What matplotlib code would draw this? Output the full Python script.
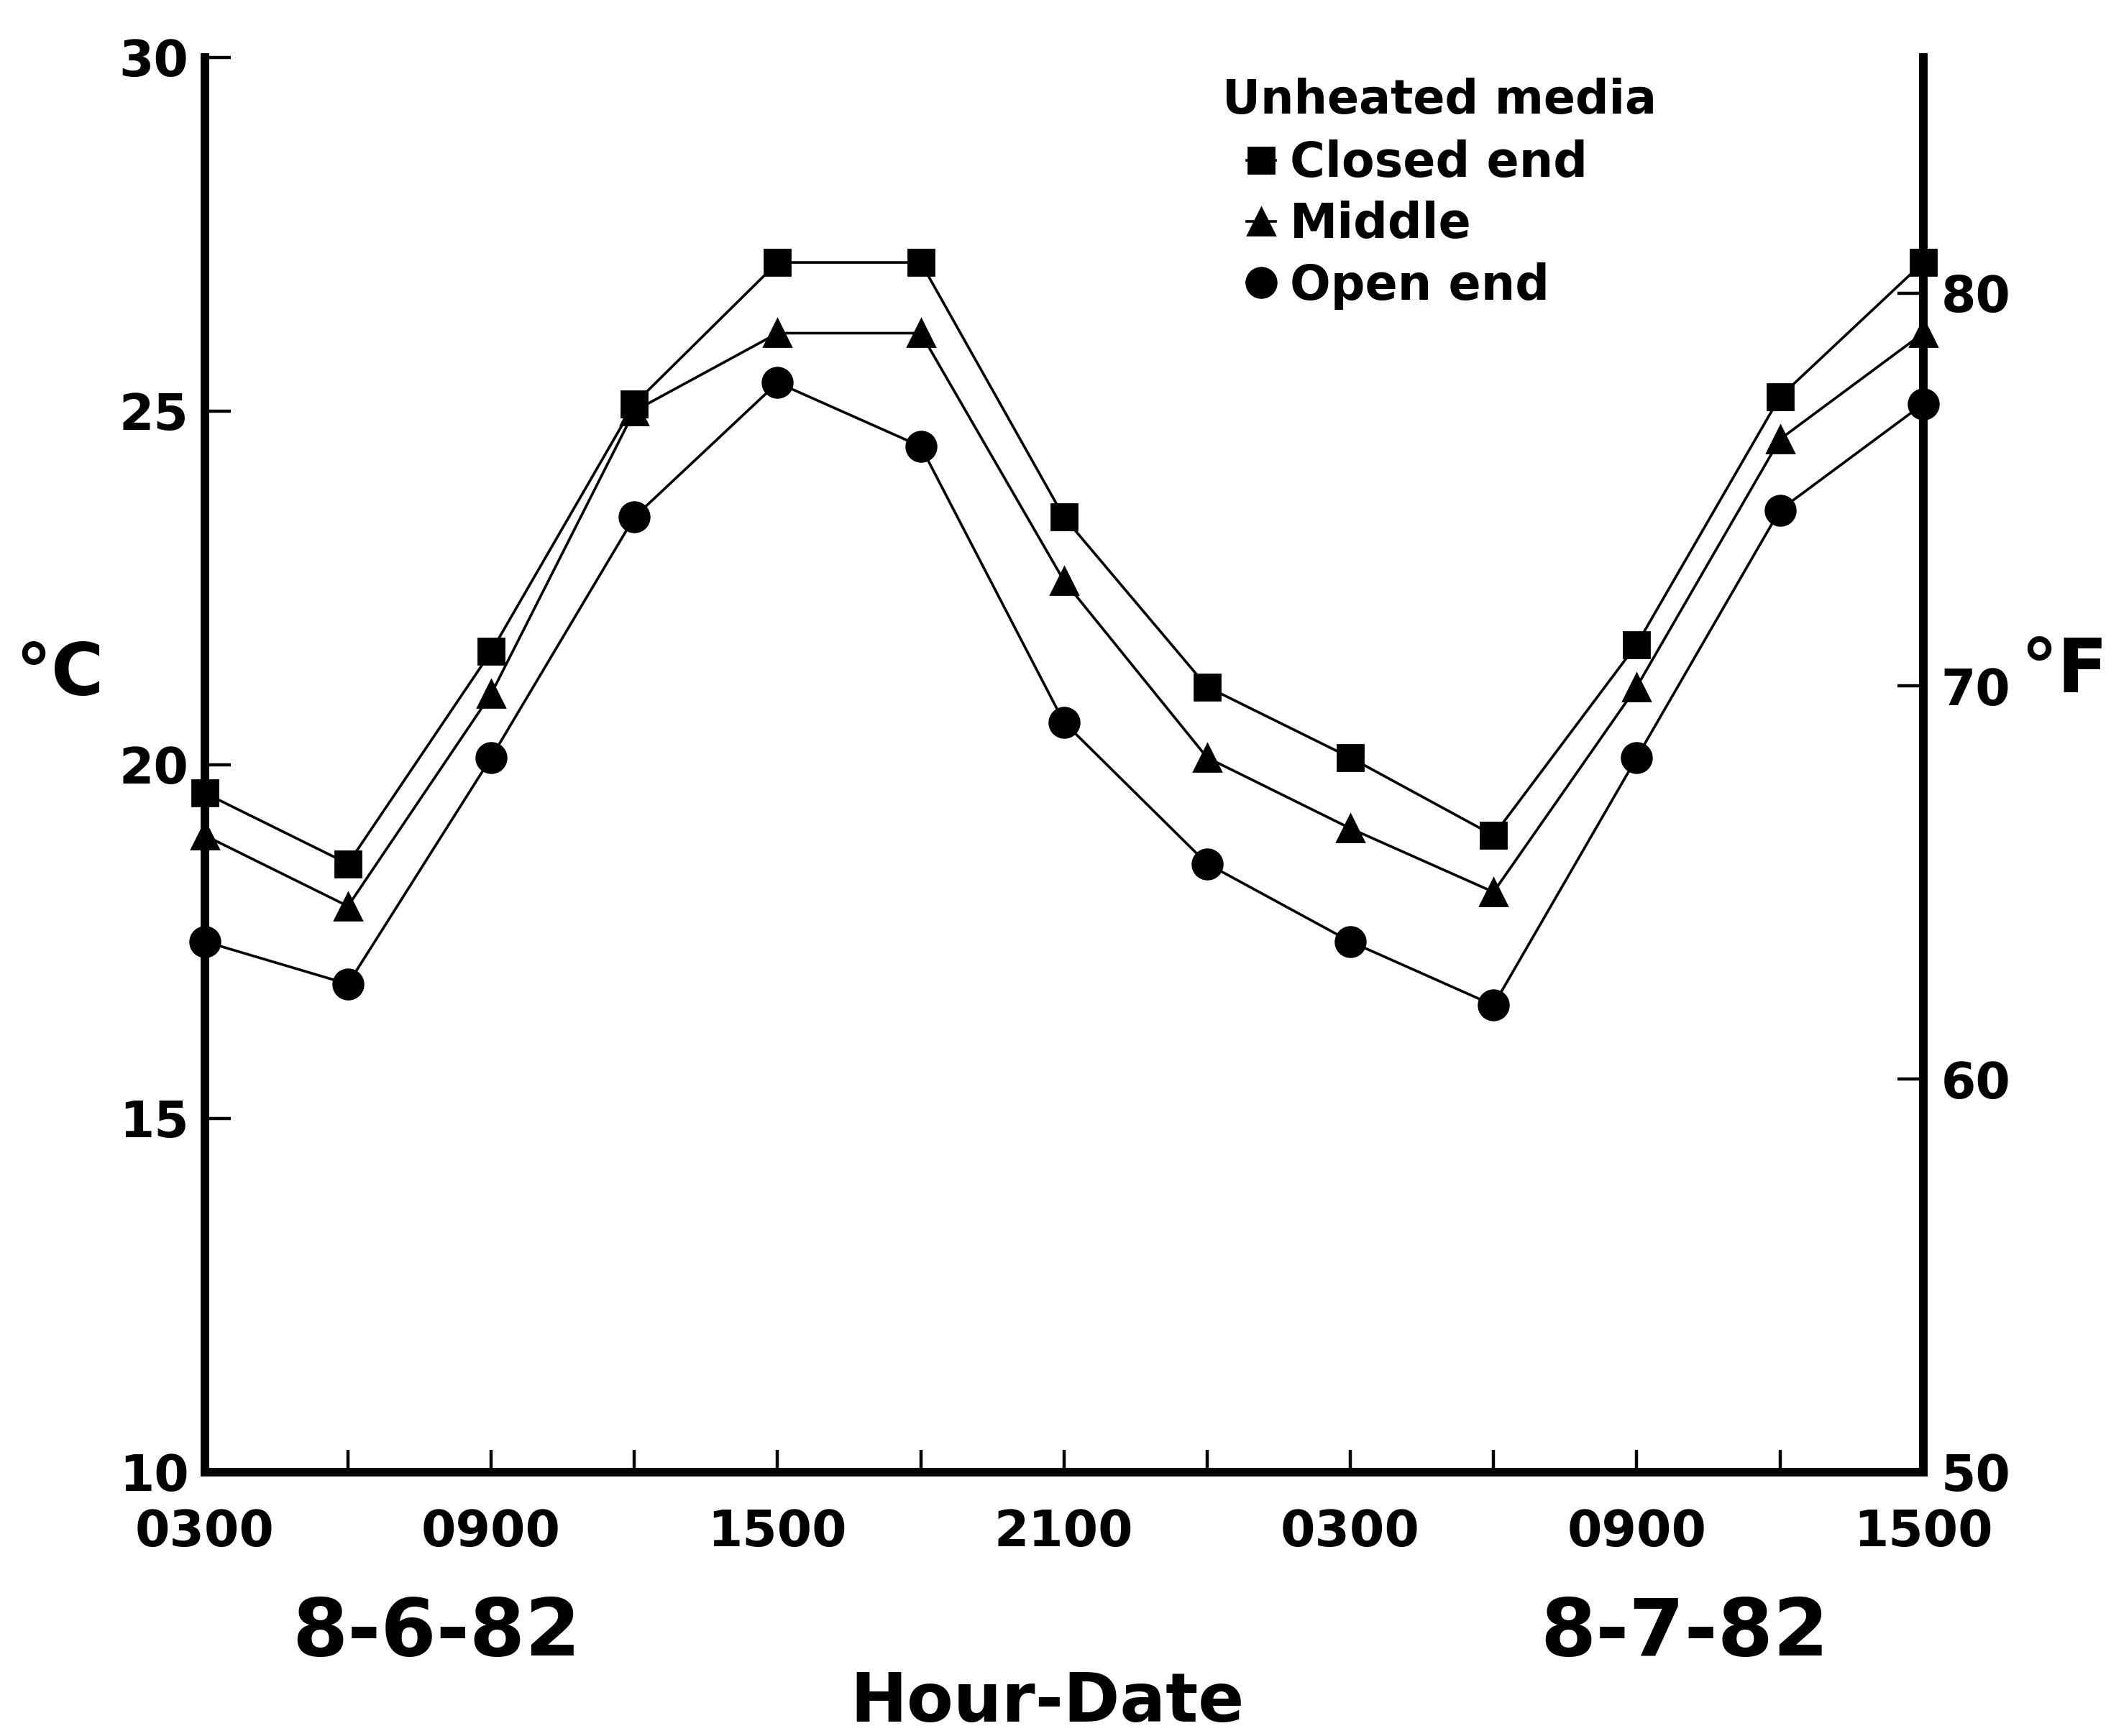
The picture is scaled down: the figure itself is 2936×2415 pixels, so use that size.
import matplotlib
matplotlib.use("Agg")
import matplotlib.pyplot as plt

plt.rcParams['font.family'] = ['DejaVu Sans']
plt.rcParams['font.weight'] = 'bold'

# hours after 0300 on 8-6-82, one reading every 3 hours
hours = [0, 3, 6, 9, 12, 15, 18, 21, 24, 27, 30, 33, 36]
hour_labels = ["0300", "", "0900", "", "1500", "", "2100", "", "0300", "", "0900", "", "1500"]

closed_end = [19.6, 18.6, 21.6, 25.1, 27.1, 27.1, 23.5, 21.1, 20.1, 19.0, 21.7, 25.2, 27.1]
middle = [19.0, 18.0, 21.0, 25.0, 26.1, 26.1, 22.6, 20.1, 19.1, 18.2, 21.1, 24.6, 26.1]
open_end = [17.5, 16.9, 20.1, 23.5, 25.4, 24.5, 20.6, 18.6, 17.5, 16.6, 20.1, 23.6, 25.1]

c_ticks = [10, 15, 20, 25, 30]
f_ticks = [50, 60, 70, 80]


def c2f(c):
    return c * 9 / 5 + 32


def f2c(f):
    return (f - 32) * 5 / 9


fig = plt.figure(figsize=(14.68, 12.075), dpi=200)
ax = fig.add_axes([0.097, 0.152, 0.814, 0.815])

lw = 1.3
ax.plot(hours, closed_end, color="black", lw=lw, marker="s", ms=13, label="Closed end", clip_on=False, zorder=5)
ax.plot(hours, middle, color="black", lw=lw, marker="^", ms=14, label="Middle", clip_on=False, zorder=5)
ax.plot(hours, open_end, color="black", lw=lw, marker="o", ms=15, label="Open end", clip_on=False, zorder=5)

ax.set_xlim(hours[0], hours[-1])
ax.set_ylim(10, 30)
ax.set_xticks(hours)
ax.set_xticklabels(hour_labels)
ax.set_yticks(c_ticks)
ax.set_yticklabels([str(t) for t in c_ticks])

for side in ["left", "bottom", "right"]:
    ax.spines[side].set_linewidth(4.3)
ax.spines["top"].set_visible(False)

ax.tick_params(axis="y", direction="in", length=13, width=1.6, labelsize=25, pad=8)
ax.tick_params(axis="x", direction="in", length=11, width=1.6, labelsize=25, pad=18)

sec = ax.secondary_yaxis("right", functions=(c2f, f2c))
sec.spines["right"].set_linewidth(4.3)
sec.set_yticks(f_ticks)
sec.set_yticklabels([str(t) for t in f_ticks])
sec.tick_params(axis="y", direction="in", length=13, width=1.6, labelsize=25, pad=9)

ax.set_ylabel("°C", rotation=0, fontsize=36, fontweight="bold", ha="center", va="center")
ax.yaxis.set_label_coords(-0.0846, 0.563)
fig.text(0.957, 0.613, "°F", fontsize=37, fontweight="bold", va="center", ha="left")

ax.text(0.135, -0.114, "8-6-82", transform=ax.transAxes, fontsize=40, ha="center", va="center")
ax.text(0.861, -0.114, "8-7-82", transform=ax.transAxes, fontsize=40, ha="center", va="center")
fig.text(0.496, 0.019, "Hour-Date", fontsize=34, ha="center", va="center")

fig.text(0.579, 0.942, "Unheated media", fontsize=23.5, ha="left", va="center")
ax.legend(loc="upper left", bbox_to_anchor=(0.5905, 0.9196), bbox_transform=fig.transFigure,
          frameon=False, fontsize=24, handlelength=0.6, handletextpad=0.3,
          borderpad=0, borderaxespad=0, labelspacing=0.29, numpoints=1)

fig.savefig("out.png", dpi=200)
